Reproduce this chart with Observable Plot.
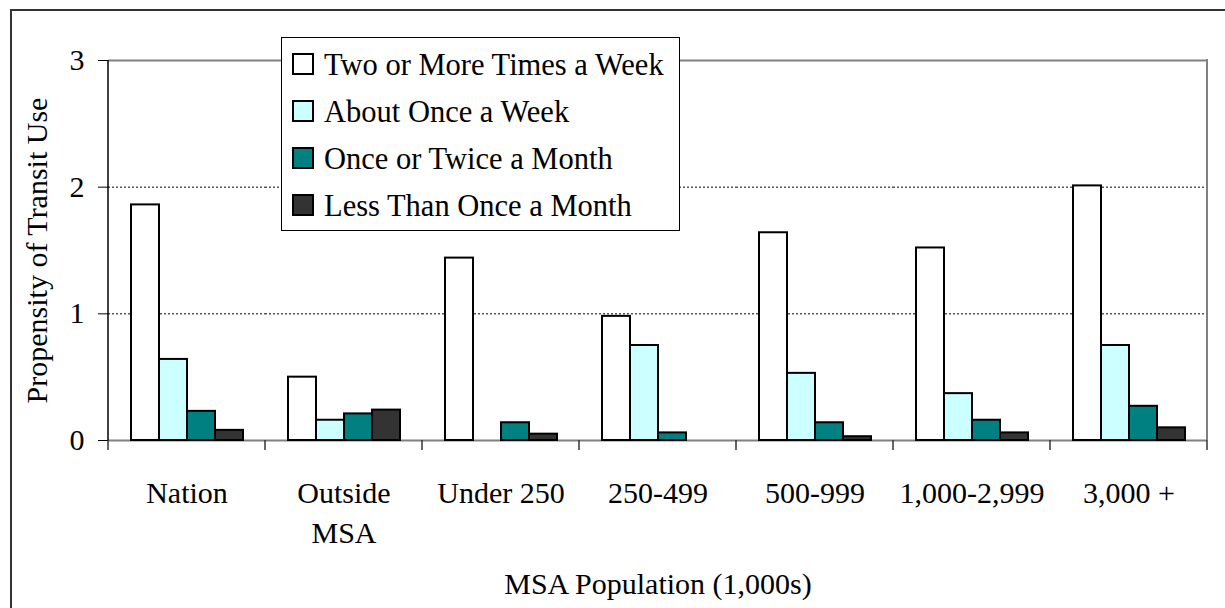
<!DOCTYPE html>
<html>
<head>
<meta charset="utf-8">
<script src="https://cdn.jsdelivr.net/npm/d3@7"></script>
<script src="https://cdn.jsdelivr.net/npm/@observablehq/plot@0.6"></script>
<style>
  html, body { margin: 0; padding: 0; background: #fff; }
  #wrap { position: relative; width: 1225px; height: 608px; overflow: hidden; font-family: "Liberation Serif", "Times New Roman", serif; }
  #border { position: absolute; left: 10px; top: 9px; width: 1300px; height: 700px; border-top: 2px solid #333; border-left: 2px solid #333; pointer-events: none; }
  #legend { position: absolute; left: 281px; top: 37px; width: 397px; height: 192px; background: #fff; border: 1px solid #000; }
  .item { position: absolute; left: 9px; height: 30px; font-size: 30.5px; line-height: 30px; color: #000; white-space: nowrap; }
  .sw { position: absolute; left: 1px; top: 3px; width: 18px; height: 18px; border: 2px solid #000; }
  .lab { position: absolute; left: 33px; top: 0; }
</style>
</head>
<body>
<div id="wrap">
  <div id="chart"></div>
  <div id="border"></div>
  <div id="legend"></div>
</div>
<script>
const categories = ["Nation", "Outside\nMSA", "Under 250", "250-499", "500-999", "1,000-2,999", "3,000 +"];
const series = ["Two or More Times a Week", "About Once a Week", "Once or Twice a Month", "Less Than Once a Month"];
const colors = ["#FFFFFF", "#CCFFFF", "#008080", "#333333"];
const twoOrMore   = [1.86, 0.50, 1.44, 0.98, 1.64, 1.52, 2.01];
const onceAWeek   = [0.64, 0.16, null, 0.75, 0.53, 0.37, 0.75];
const monthly     = [0.23, 0.21, 0.14, 0.06, 0.14, 0.16, 0.27];
const lessMonthly = [0.08, 0.24, 0.05, null, 0.03, 0.06, 0.10];
const yTicks = [0, 1, 2, 3];
const gridValues = [1, 2];
const xTitle = "MSA Population (1,000s)";
const yTitle = "Propensity of Transit Use";

const seriesValues = [twoOrMore, onceAWeek, monthly, lessMonthly];
const data = [];
categories.forEach((c, i) => {
  series.forEach((s, j) => {
    const v = seriesValues[j][i];
    if (v != null) data.push({category: c, series: s, value: v});
  });
});

const font = "'Liberation Serif', 'Times New Roman', serif";

const plot = Plot.plot({
  width: 1225,
  height: 608,
  marginLeft: 108,
  marginRight: 18,
  marginTop: 60,
  marginBottom: 168,
  style: {fontFamily: font, fontSize: "30px", color: "#000", background: "transparent"},
  fx: {domain: categories, padding: 0, axis: null, label: null},
  x: {domain: series, paddingInner: 0, paddingOuter: 0.745, axis: null, label: null},
  y: {domain: [0, 3], axis: null, label: null},
  color: {domain: series, range: colors},
  marks: [
    Plot.ruleY(gridValues, {stroke: "#000", strokeWidth: 1, strokeDasharray: "2,2"}),
    Plot.ruleY([3], {stroke: "#808080", strokeWidth: 2}),
    Plot.ruleY([0], {stroke: "#808080", strokeWidth: 2}),
    Plot.barY(data, {fx: "category", x: "series", y: "value", fill: "series", stroke: "#000", strokeWidth: 2}),
    Plot.axisY(yTicks, {tickSize: 10, tickPadding: 14, tickFormat: d3.format("d"), fontSize: 30, label: yTitle, labelAnchor: "center", labelOffset: 83, labelArrow: false, stroke: "#000"}),
    Plot.axisFx({anchor: "bottom", tickSize: 0, tickPadding: 34, lineHeight: 1.33, fontSize: 30, label: xTitle, labelAnchor: "center", labelOffset: 153, labelArrow: false})
  ]
});

document.getElementById("chart").appendChild(plot);

// axis decorations derived from the plot's own scales
const fx = plot.scale("fx");
const y = plot.scale("y");
const svg = d3.select(plot);
const g = svg.append("g");
const y0 = y.apply(0), y3 = y.apply(3);
const left = fx.apply(categories[0]);
const right = fx.apply(categories[categories.length - 1]) + fx.bandwidth;
g.append("line").attr("x1", left).attr("x2", left).attr("y1", y3).attr("y2", y0 + 1).attr("stroke", "#000").attr("stroke-width", 1.5);
g.append("line").attr("x1", right).attr("x2", right).attr("y1", y3 - 1).attr("y2", y0).attr("stroke", "#808080").attr("stroke-width", 2);
const bounds = categories.map(c => fx.apply(c)).concat([right]);
bounds.forEach(b => {
  g.append("line").attr("x1", b).attr("x2", b).attr("y1", y0).attr("y2", y0 + 10).attr("stroke", "#333").attr("stroke-width", 1.5);
});

// legend
const legend = document.getElementById("legend");
series.forEach((s, i) => {
  const it = document.createElement("div");
  it.className = "item";
  it.style.top = (12 + i * 47) + "px";
  const sw = document.createElement("div");
  sw.className = "sw";
  sw.style.background = colors[i];
  const lab = document.createElement("span");
  lab.className = "lab";
  lab.textContent = s;
  it.appendChild(sw);
  it.appendChild(lab);
  legend.appendChild(it);
});
</script>
</body>
</html>
